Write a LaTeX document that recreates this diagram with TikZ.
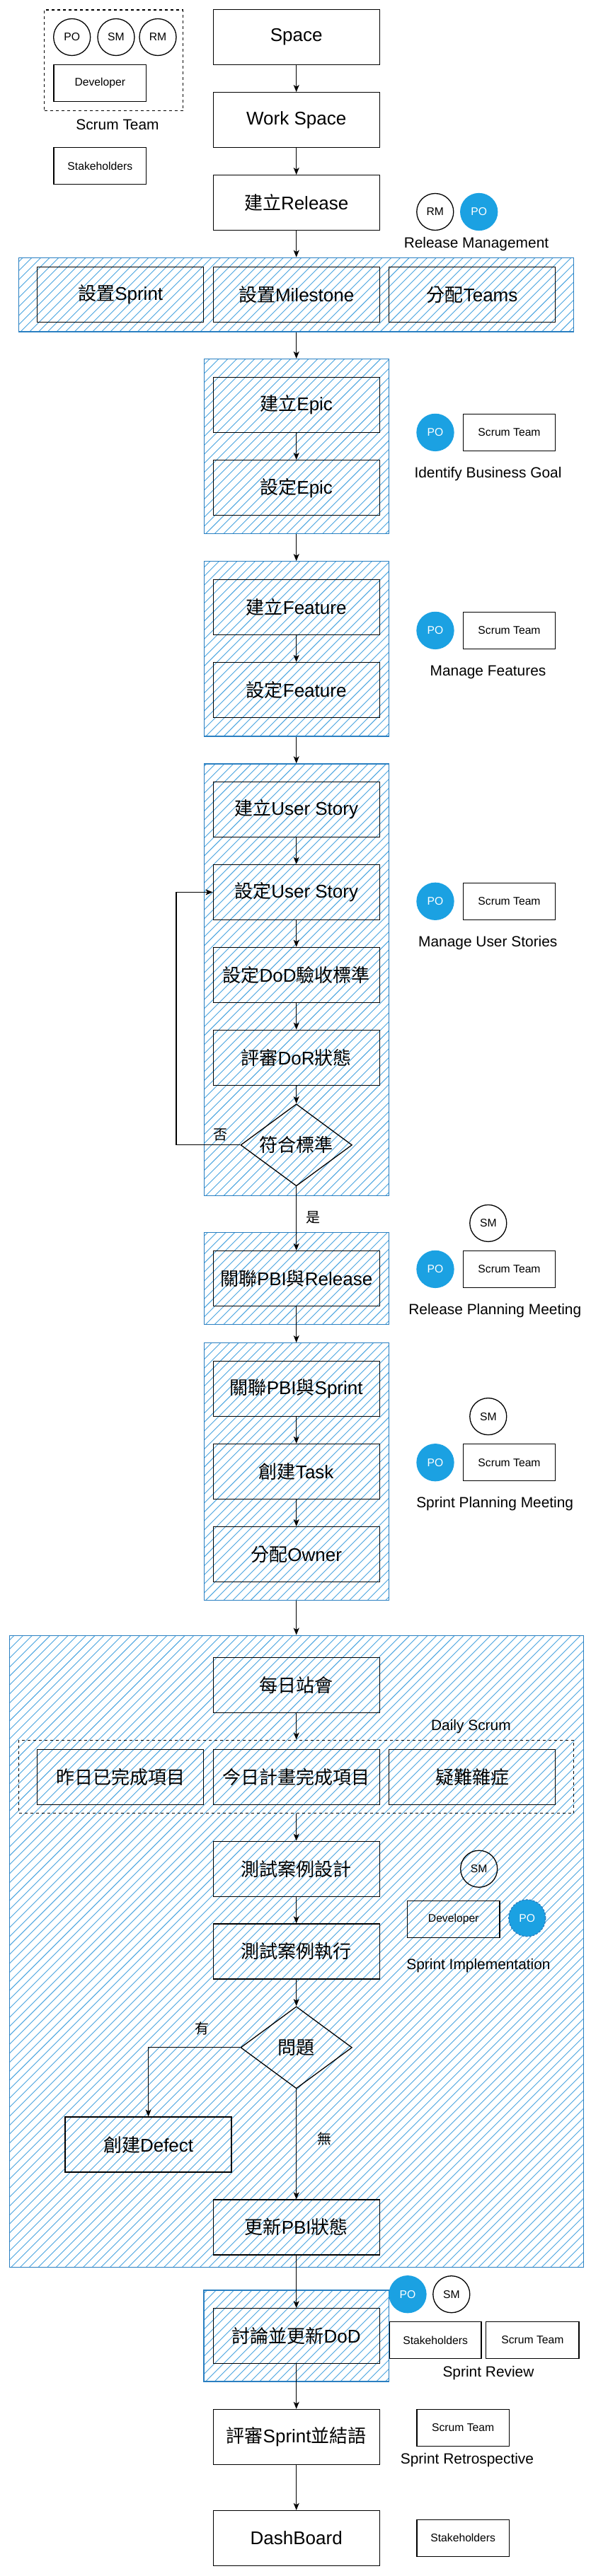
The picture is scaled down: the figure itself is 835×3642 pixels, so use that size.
\documentclass[tikz,border=0pt]{standalone}
\usepackage{fontspec}
\setmainfont{Liberation Sans}
\newfontfamily\cjkf{Noto Sans CJK TC}
\newcommand\zhtw[1]{{\cjkf #1}}
\usetikzlibrary{arrows.meta,shapes.geometric}
\definecolor{pob}{RGB}{27,161,226}
\definecolor{contb}{RGB}{42,127,193}
\definecolor{hatchc}{RGB}{74,165,224}
\begin{document}
\begin{tikzpicture}[x=1bp,y=-1bp,
  mbox/.style={draw=black, line width=1.3bp, minimum width=235bp, minimum height=78bp, inner sep=0pt, font=\fontsize{26bp}{30bp}\selectfont},
  sbox/.style={draw=black, line width=1.3bp, minimum width=130.5bp, minimum height=52bp, inner sep=0pt, font=\fontsize{15.7bp}{18bp}\selectfont},
  pers/.style={circle, draw=black, line width=1.3bp, minimum size=52bp, inner sep=0pt, font=\fontsize{15.7bp}{18bp}\selectfont},
  pofill/.style={pers, fill=pob, draw=pob, text=white},
  cont/.style={draw=contb, line width=1.3bp, inner sep=0pt, path picture={
      \foreach \i in {0,...,150}{
        \draw[hatchc, line width=0.9bp] ([xshift=\i*12.7bp-950bp]path picture bounding box.south west) -- ++(950bp,950bp);
      }}},
  dashbox/.style={draw=black, line width=1.3bp, dash pattern=on 4bp off 4bp, inner sep=0pt},
  lbl/.style={inner sep=0pt, font=\fontsize{20.9bp}{24bp}\selectfont},
  elbl/.style={inner sep=0pt, font=\cjkf\fontsize{20bp}{24bp}\selectfont},
  dec/.style={diamond, draw=black, line width=1.3bp, minimum width=157.4bp, minimum height=116bp, inner sep=0pt, aspect=1.357, font=\fontsize{26bp}{30bp}\selectfont},
  arr/.style={draw=black, line width=1.3bp, -{Stealth[length=10bp,width=8bp,inset=2.5bp]}}
]
\useasboundingbox[fill=white] (0,0) rectangle (835,3642);

% ---------- legend ----------
\node[dashbox, minimum width=196bp, minimum height=142.7bp] (legend) at (160.6,85.35) {};
\node[pers] (lpo) at (101.7,52.5) {PO};
\node[pers] (lsm) at (164,52.5) {SM};
\node[pers] (lrm) at (223,52.5) {RM};
\node[sbox] (ldev) at (141.3,117.5) {Developer};
\node[lbl] (lst) at (166,176.7) {Scrum Team};
\node[sbox] (lsh) at (141.3,234.5) {Stakeholders};

% ---------- containers ----------
\node[cont, minimum width=784.2bp, minimum height=104.7bp] (c1) at (418.7,416.65) {};
\node[cont, minimum width=261bp, minimum height=246.8bp] (c2) at (418.7,631) {};
\node[cont, minimum width=261bp, minimum height=247.2bp] (c3) at (418.7,917.4) {};
\node[cont, minimum width=261bp, minimum height=610.5bp] (c4) at (418.7,1385.25) {};
\node[cont, minimum width=261bp, minimum height=129.8bp] (c5) at (418.7,1807.4) {};
\node[cont, minimum width=261bp, minimum height=363.6bp] (c6) at (418.7,2080.6) {};
\node[cont, minimum width=811bp, minimum height=893.4bp] (c7) at (418.7,2758.9) {};
\node[cont, minimum width=261.3bp, minimum height=128.8bp] (c8) at (418.7,3302.5) {};

% ---------- top ----------
\node[mbox] (space) at (418.7,52.5) {Space};
\node[mbox] (ws) at (418.7,169.7) {Work Space};
\node[mbox] (rel) at (418.7,286.7) {\zhtw{建立}Release};
\node[pers] (rm1) at (614.8,299.5) {RM};
\node[pofill] (po1) at (676.7,299.5) {PO};
\node[lbl] (l1) at (673,345) {Release Management};

\node[mbox] (sp) at (170.25,416.5) {\zhtw{設置}Sprint};
\node[mbox] (ms) at (418.7,416.5) {\zhtw{設置}Milestone};
\node[mbox] (tm) at (667.05,416.5) {\zhtw{分配}Teams};

% ---------- epic ----------
\node[mbox] (ce) at (418.7,572.5) {\zhtw{建立}Epic};
\node[mbox] (se) at (418.7,689.7) {\zhtw{設定}Epic};
\node[pofill] (po2) at (615,611.4) {PO};
\node[sbox] (st2) at (719.5,611.4) {Scrum Team};
\node[lbl] (l2) at (689.5,670.2) {Identify Business Goal};

% ---------- feature ----------
\node[mbox] (cf) at (418.7,858.5) {\zhtw{建立}Feature};
\node[mbox] (sf) at (418.7,975.6) {\zhtw{設定}Feature};
\node[pofill] (po3) at (615,891.4) {PO};
\node[sbox] (st3) at (719.5,891.4) {Scrum Team};
\node[lbl] (l3) at (689.5,950.7) {Manage Features};

% ---------- user story ----------
\node[mbox] (cus) at (418.7,1144.3) {\zhtw{建立}User Story};
\node[mbox] (sus) at (418.7,1261.4) {\zhtw{設定}User Story};
\node[mbox] (dod) at (418.7,1378.4) {\zhtw{設定}DoD\zhtw{驗收標準}};
\node[mbox] (dor) at (418.7,1495.3) {\zhtw{評審}DoR\zhtw{狀態}};
\node[dec] (fit) at (418.7,1618.8) {\makebox[0pt]{\zhtw{符合標準}}};
\node[pofill] (po4) at (615,1274.3) {PO};
\node[sbox] (st4) at (719.5,1274.3) {Scrum Team};
\node[lbl] (l4) at (689.3,1333.2) {Manage User Stories};
\coordinate (loopc) at (249,1618.8);

% ---------- release planning ----------
\node[mbox] (prel) at (418.7,1807.6) {\zhtw{關聯}PBI\zhtw{與}Release};
\node[pers] (sm5) at (689.8,1729.4) {SM};
\node[pofill] (po5) at (615,1794.4) {PO};
\node[sbox] (st5) at (719.5,1794.4) {Scrum Team};
\node[lbl] (l5) at (699.3,1852.8) {Release Planning Meeting};

% ---------- sprint planning ----------
\node[mbox] (psp) at (418.7,1963.5) {\zhtw{關聯}PBI\zhtw{與}Sprint};
\node[mbox] (task) at (418.7,2080.5) {\zhtw{創建}Task};
\node[mbox] (owner) at (418.7,2197.6) {\zhtw{分配}Owner};
\node[pers] (sm6) at (689.8,2002.6) {SM};
\node[pofill] (po6) at (615,2067.7) {PO};
\node[sbox] (st6) at (719.5,2067.7) {Scrum Team};
\node[lbl] (l6) at (699.2,2126.5) {Sprint Planning Meeting};

% ---------- sprint implementation ----------
\node[mbox] (daily) at (418.7,2382.3) {\zhtw{每日站會}};
\node[lbl] (l7a) at (665.4,2441.5) {Daily Scrum};
\node[dashbox, minimum width=784.2bp, minimum height=103.6bp] (dsbox) at (418.7,2512) {};
\node[mbox] (y1) at (170.25,2512.2) {\zhtw{昨日已完成項目}};
\node[mbox] (y2) at (418.7,2512.2) {\zhtw{今日計畫完成項目}};
\node[mbox] (y3) at (667.05,2512.2) {\zhtw{疑難雜症}};
\node[mbox] (tcd) at (418.7,2642.2) {\zhtw{測試案例設計}};
\node[mbox] (tce) at (418.7,2758.9) {\zhtw{測試案例執行}};
\node[pers] (sm7) at (676.7,2642.2) {SM};
\node[sbox] (dev7) at (640.7,2713.5) {Developer};
\node[pofill, draw=contb, dash pattern=on 3bp off 2bp] (po7) at (744.8,2711.8) {PO};
\node[lbl] (l7) at (676,2779) {Sprint Implementation};
\node[dec] (q) at (418.7,2894.8) {\makebox[0pt]{\zhtw{問題}}};
\coordinate (qc) at (209.6,2894.8);
\node[mbox] (defect) at (209.6,3032.1) {\zhtw{創建}Defect};
\node[mbox] (upd) at (418.7,3149) {\zhtw{更新}PBI\zhtw{狀態}};

% ---------- review ----------
\node[mbox] (ddod) at (418.7,3302.8) {\zhtw{討論並更新}DoD};
\node[pofill] (po8) at (576,3243.7) {PO};
\node[pers] (sm8) at (637.8,3243.7) {SM};
\node[sbox, minimum width=129.6bp, minimum height=52.5bp] (sh8) at (615.1,3308.55) {Stakeholders};
\node[sbox, minimum width=131.2bp, minimum height=52.5bp] (st8) at (752.4,3308.55) {Scrum Team};
\node[lbl] (l8) at (690,3354.7) {Sprint Review};

\node[mbox] (retro) at (418.7,3445.4) {\zhtw{評審}Sprint\zhtw{並結語}};
\node[sbox] (st9) at (654.2,3432.2) {Scrum Team};
\node[lbl] (l9) at (660,3477.7) {Sprint Retrospective};

\node[mbox] (dash) at (418.7,3588.5) {DashBoard};
\node[sbox] (sh10) at (654.2,3588.2) {Stakeholders};

% ---------- connectors ----------
\draw[arr] (space) -- (ws);
\draw[arr] (ws) -- (rel);
\draw[arr] (rel) -- (c1);
\draw[arr] (c1) -- (c2);
\draw[arr] (ce) -- (se);
\draw[arr] (c2) -- (c3);
\draw[arr] (cf) -- (sf);
\draw[arr] (c3) -- (c4);
\draw[arr] (cus) -- (sus);
\draw[arr] (sus) -- (dod);
\draw[arr] (dod) -- (dor);
\draw[arr] (dor) -- (fit);
\draw[arr] (fit) -- node[elbl, pos=0.48, right=13bp] {是} (prel);
\draw[arr] (fit.west) -- node[elbl, pos=0.31, above=5bp] {否} (loopc) |- (sus.west);
\draw[arr] (prel) -- (c6);
\draw[arr] (psp) -- (task);
\draw[arr] (task) -- (owner);
\draw[arr] (c6) -- (c7);
\draw[arr] (daily) -- (dsbox);
\draw[arr] (dsbox) -- (tcd);
\draw[arr] (tcd) -- (tce);
\draw[arr] (tce) -- (q);
\draw[arr] (q.west) -- node[elbl, pos=0.414, above=17bp] {有} (qc) -- (defect);
\draw[arr] (q) -- node[elbl, pos=0.448, right=29bp] {無} (upd);
\draw[arr] (upd) -- (ddod);
\draw[arr] (ddod) -- (retro);
\draw[arr] (retro) -- (dash);
\end{tikzpicture}
\end{document}
